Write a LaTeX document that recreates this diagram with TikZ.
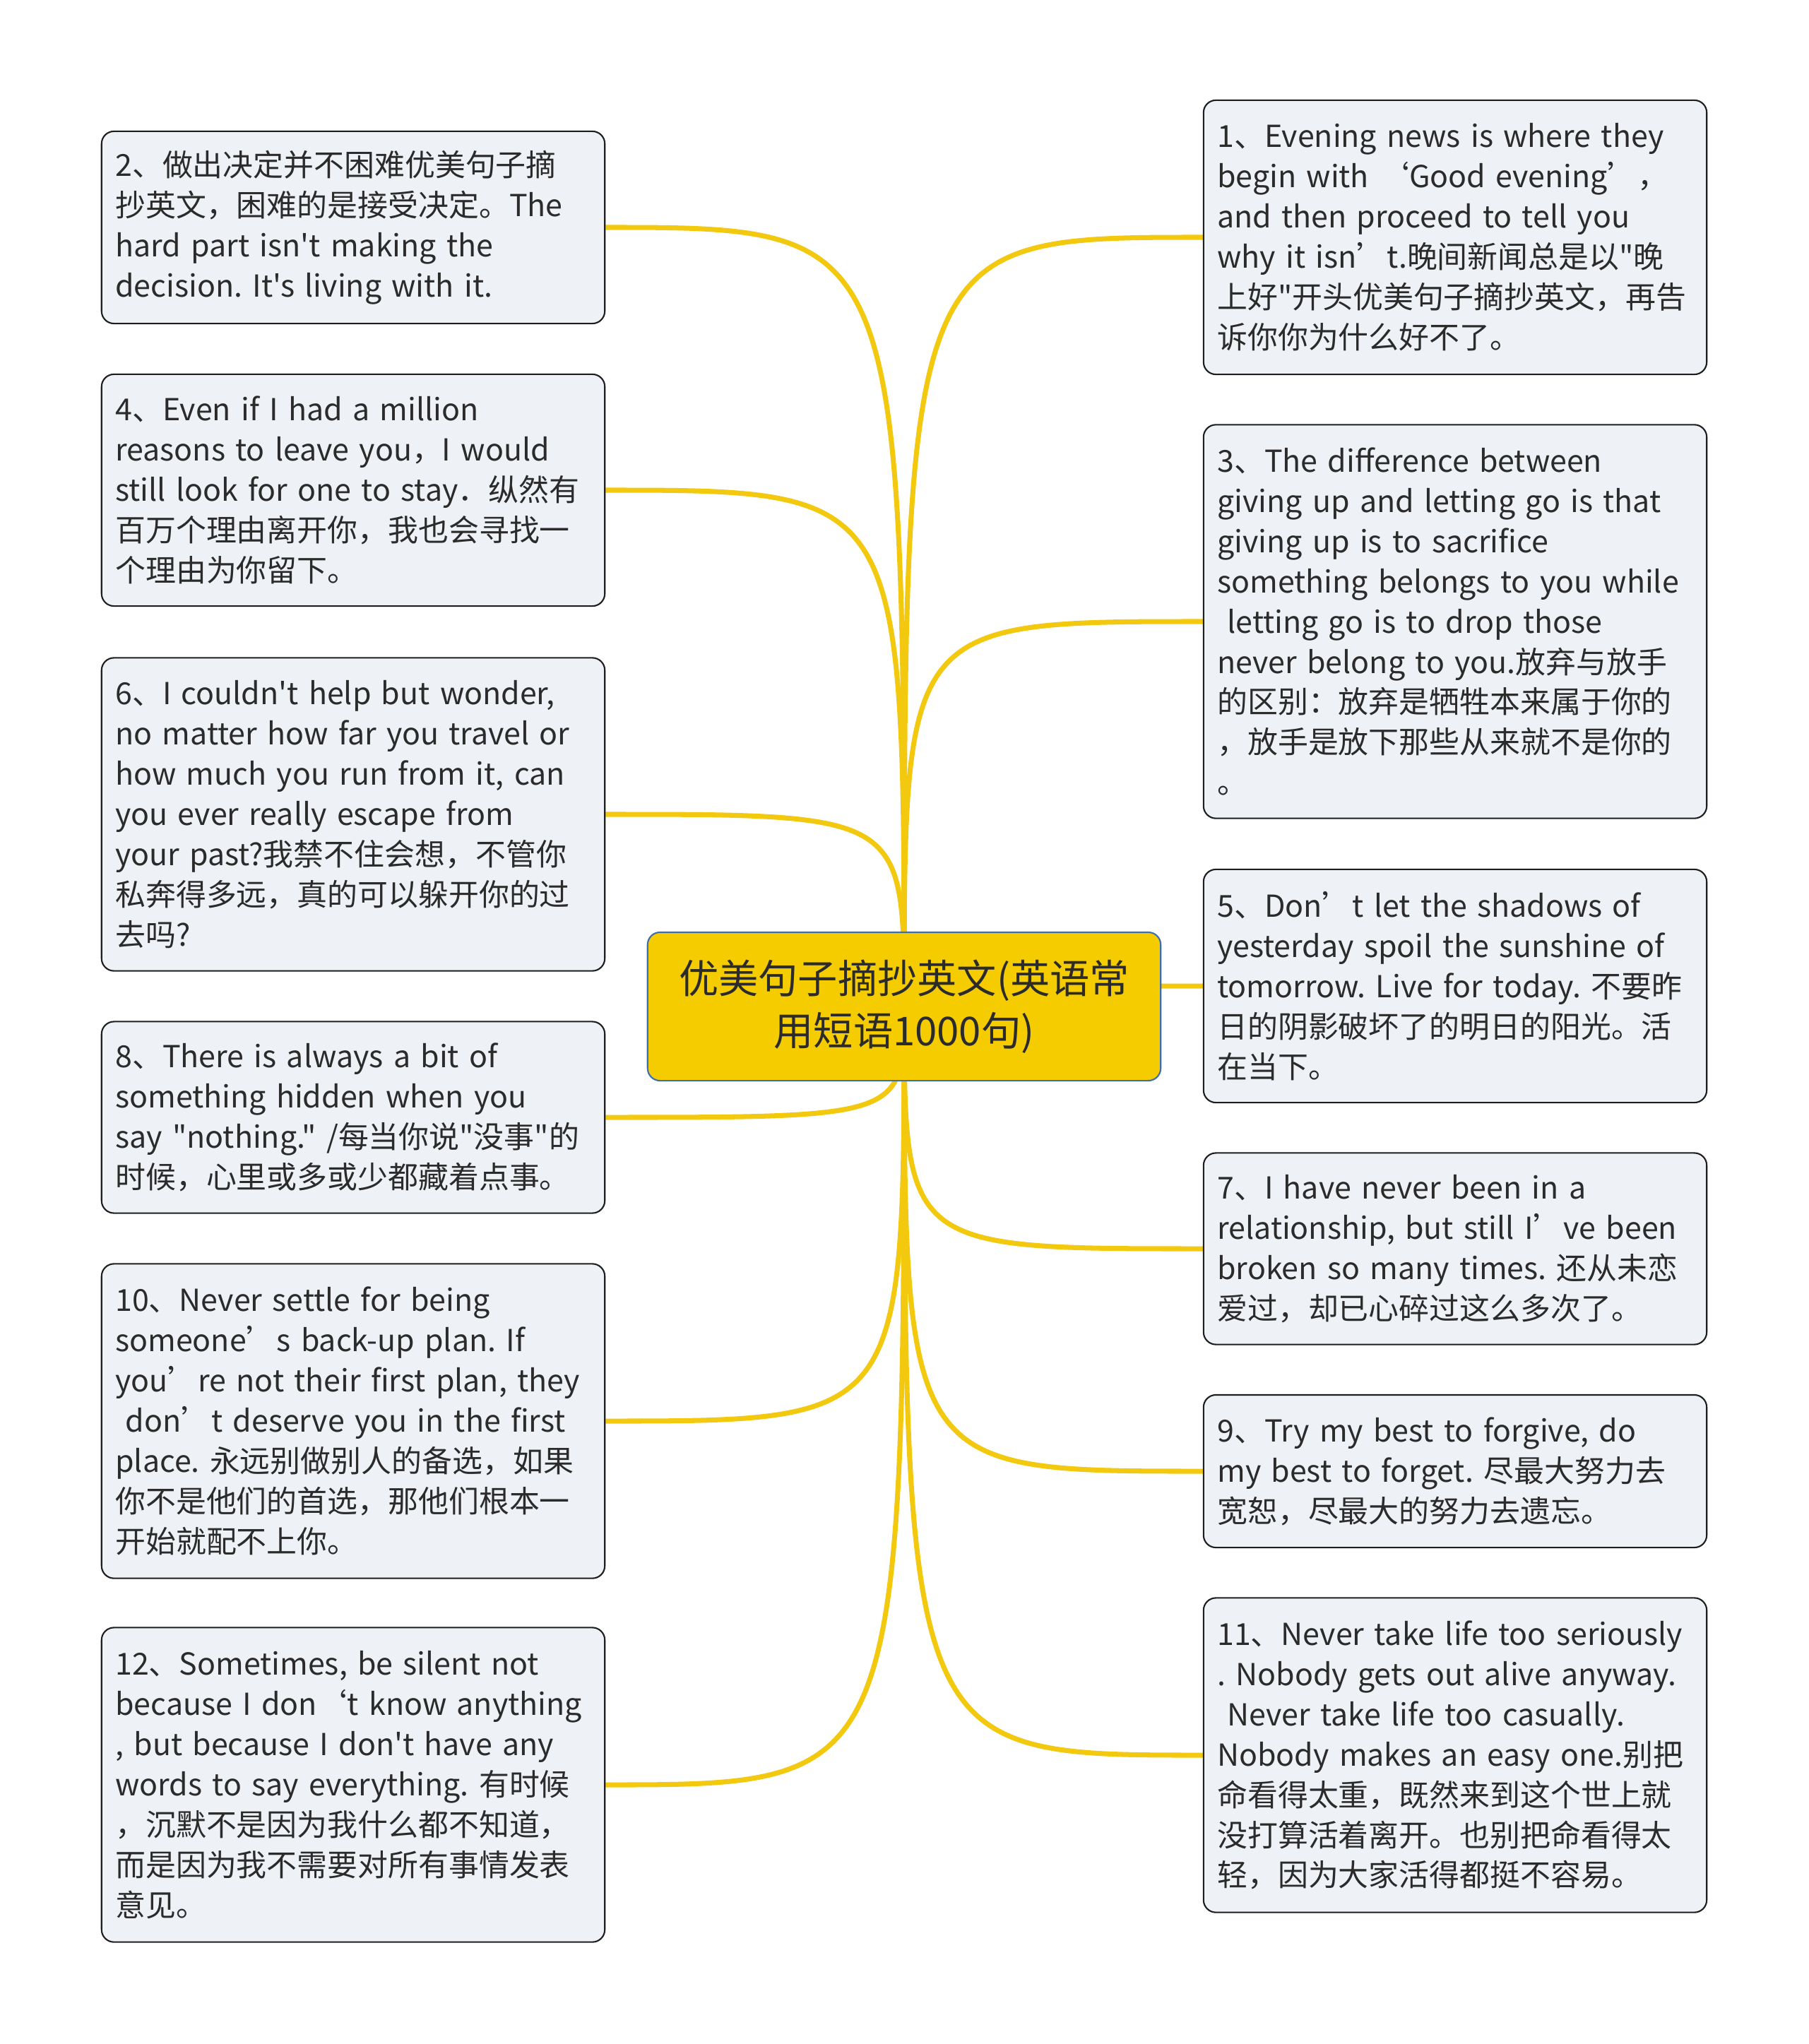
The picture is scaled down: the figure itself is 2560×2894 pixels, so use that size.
\documentclass[tikz,border=0pt]{standalone}
\usepackage{fontspec}
\setmainfont{Noto Sans CJK SC}[Ligatures=TeXOff]
\usepackage{tikz}
\usepackage{xcolor}
\usetikzlibrary{backgrounds}
\definecolor{cardbg}{HTML}{EEF1F5}
\definecolor{cardline}{HTML}{1E1E1E}
\definecolor{rootbg}{HTML}{F5CC00}
\definecolor{rootline}{HTML}{3B6FB0}
\definecolor{twig}{HTML}{F3C90F}
\definecolor{ink}{HTML}{2B2B2B}
\frenchspacing
\tikzset{
  leafcard/.style={
    draw=cardline, fill=cardbg, line width=0.6pt, rounded corners=5pt,
    align=left, text width=6.95cm, inner xsep=0.085cm, inner ysep=0pt,
    execute at begin node={\leftskip=0.11cm},
    text=ink, font=\fontsize{12.2pt}{16.2pt}\selectfont
  },
  rootcard/.style={
    draw=rootline, fill=rootbg, line width=0.6pt, rounded corners=5pt,
    align=center, minimum width=7.26cm, minimum height=2.1cm,
    text=ink, font=\fontsize{16pt}{21pt}\selectfont
  },
  twigline/.style={draw=twig, line width=2pt}
}

\begin{document}
\begin{tikzpicture}[x=0.01cm,y=-0.01cm]
  \useasboundingbox (0,0) rectangle (2560,2894);

  % root
  \node[rootcard] (root) at (1280,1425) {优美句子摘抄英文(英语常\\用短语1000句)};

  % left column
  \node[leafcard,minimum height=2.72cm] (s2) at (500,322) {%
    2、做出决定并不困难优美句子摘\\
    抄英文，困难的是接受决定。The\\
    hard part isn't making the\\
    decision. It's living with it.};
  \node[leafcard,minimum height=3.28cm] (s4) at (500,694) {%
    4、Even if I had a million\\
    reasons to leave you，I would\\
    still look for one to stay．纵然有\\
    百万个理由离开你，我也会寻找一\\
    个理由为你留下。};
  \node[leafcard,minimum height=4.43cm] (s6) at (500,1153) {%
    6、I couldn't help but wonder,\\
    no matter how far you travel or\\
    how much you run from it, can\\
    you ever really escape from\\
    your past?我禁不住会想，不管你\\
    私奔得多远，真的可以躲开你的过\\
    去吗?};
  \node[leafcard,minimum height=2.71cm] (s8) at (500,1582) {%
    8、There is always a bit of\\
    something hidden when you\\
    say "nothing." /每当你说"没事"的\\
    时候，心里或多或少都藏着点事。};
  \node[leafcard,minimum height=4.45cm] (s10) at (500,2012) {%
    10、Never settle for being\\
    someone’s back-up plan. If\\
    you’re not their first plan, they\\
    \ don’t deserve you in the first\\
    place. 永远别做别人的备选，如果\\
    你不是他们的首选，那他们根本一\\
    开始就配不上你。};
  \node[leafcard,minimum height=4.45cm] (s12) at (500,2527) {%
    12、Sometimes, be silent not\\
    because I don‘t know anything\\
    , but because I don't have any\\
    words to say everything. 有时候\\
    ，沉默不是因为我什么都不知道，\\
    而是因为我不需要对所有事情发表\\
    意见。};

  % right column
  \node[leafcard,minimum height=3.88cm] (s1) at (2060,336) {%
    1、Evening news is where they\\
    begin with ‘Good evening’，\\
    and then proceed to tell you\\
    why it isn’t.晚间新闻总是以"晚\\
    上好"开头优美句子摘抄英文，再告\\
    诉你你为什么好不了。};
  \node[leafcard,minimum height=5.57cm] (s3) at (2060,880) {%
    3、The difference between\\
    giving up and letting go is that\\
    giving up is to sacrifice\\
    something belongs to you while\\
    \ letting go is to drop those\\
    never belong to you.放弃与放手\\
    的区别：放弃是牺牲本来属于你的\\
    ，放手是放下那些从来就不是你的\\
    。};
  \node[leafcard,minimum height=3.30cm] (s5) at (2060,1396) {%
    5、Don’t let the shadows of\\
    yesterday spoil the sunshine of\\
    tomorrow. Live for today. 不要昨\\
    日的阴影破坏了的明日的阳光。活\\
    在当下。};
  \node[leafcard,minimum height=2.71cm] (s7) at (2060,1768) {%
    7、I have never been in a\\
    relationship, but still I’ve been\\
    broken so many times. 还从未恋\\
    爱过，却已心碎过这么多次了。};
  \node[leafcard,minimum height=2.16cm] (s9) at (2060,2083) {%
    9、Try my best to forgive, do\\
    my best to forget. 尽最大努力去\\
    宽恕，尽最大的努力去遗忘。};
  \node[leafcard,minimum height=4.45cm] (s11) at (2060,2485) {%
    11、Never take life too seriously\\
    . Nobody gets out alive anyway.\\
    \ Never take life too casually.\\
    Nobody makes an easy one.别把\\
    命看得太重，既然来到这个世上就\\
    没打算活着离开。也别把命看得太\\
    轻，因为大家活得都挺不容易。};

  % branches, behind the cards
  \begin{pgfonlayer}{background}
    \fill[white] (0,0) rectangle (2560,2894);
    \foreach \leaf in {s2,s4,s6,s8,s10,s12}
      \draw[twigline] (root.center) .. controls (root.center |- \leaf.east) .. (\leaf.east);
    \foreach \leaf in {s1,s3,s5,s7,s9,s11}
      \draw[twigline] (root.center) .. controls (root.center |- \leaf.west) .. (\leaf.west);
  \end{pgfonlayer}
\end{tikzpicture}
\end{document}
